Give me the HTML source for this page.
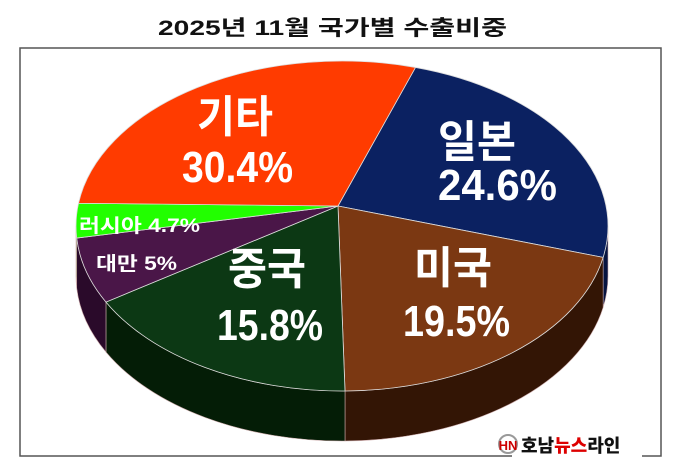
<!DOCTYPE html>
<html><head><meta charset="utf-8"><style>
html,body{margin:0;padding:0;background:#fff;width:680px;height:472px;overflow:hidden}
svg{display:block}
text{font-family:"Liberation Sans","Noto Sans CJK KR",sans-serif;font-weight:bold}
</style></head><body>
<svg id="s" width="680" height="472" viewBox="0 0 680 472" xmlns="http://www.w3.org/2000/svg">
<text x="158" y="35" font-size="21" textLength="349" lengthAdjust="spacingAndGlyphs" fill="#111">2025년 11월 국가별 수출비중</text>
<rect x="20" y="48" width="641" height="408" fill="#fff" stroke="#555" stroke-width="1.5"/>
<g id="pie"></g>
<g fill="#fff">
<text x="197" y="132" font-size="44" textLength="76" lengthAdjust="spacingAndGlyphs">기타</text>
<text x="182" y="182" font-size="44" textLength="111" lengthAdjust="spacingAndGlyphs">30.4%</text>
<text x="438" y="157" font-size="44" textLength="78" lengthAdjust="spacingAndGlyphs">일본</text>
<text x="438" y="200" font-size="44" textLength="119" lengthAdjust="spacingAndGlyphs">24.6%</text>
<text x="414" y="283" font-size="44" textLength="78" lengthAdjust="spacingAndGlyphs">미국</text>
<text x="403" y="336" font-size="44" textLength="107" lengthAdjust="spacingAndGlyphs">19.5%</text>
<text x="228" y="284" font-size="44" textLength="78" lengthAdjust="spacingAndGlyphs">중국</text>
<text x="217" y="340" font-size="44" textLength="106" lengthAdjust="spacingAndGlyphs">15.8%</text>
<text x="79" y="232" font-size="19" textLength="121" lengthAdjust="spacingAndGlyphs">러시아 4.7%</text>
<text x="96" y="270" font-size="19" textLength="81" lengthAdjust="spacingAndGlyphs">대만 5%</text>
</g>
<rect x="512" y="446" width="130" height="12" fill="#fff"/>
<circle cx="508" cy="444" r="9" fill="none" stroke="#999" stroke-width="2"/>
<text x="508" y="450" font-size="13" text-anchor="middle" fill="#c00">HN</text>
<text x="521" y="452" font-size="18" fill="#111" style="font-family:'Noto Sans CJK KR',sans-serif;font-weight:900">호남<tspan fill="#d00">뉴스</tspan>라인</text>
</svg>
<script>
(function(){
var cx=342,cy=226,rx=266,ry=165,D=50,ax=338,ay=206;
function tp(x,y){return Math.atan2((y-cy)/ry,(x-cx)/rx);}
function P(t,d){return [cx+rx*Math.cos(t),cy+ry*Math.sin(t)+(d||0)];}
var pts=[[418,62],[608,258],[345,391],[100,304],[78,238],[76,203]];
var topc=["#0b2161","#7b3812","#0c3814","#4a1648","#22ff00","#ff3b00"];
var sidec=["#061440","#331505","#041d06","#2a0a2a","#118800","#992200"];
var T=pts.map(function(p){return tp(p[0],p[1]);});
var g=document.getElementById('pie'),h='';
function n(t){while(t<0)t+=2*Math.PI;return t;}
for(var i=0;i<6;i++){
 var a=n(T[i]),b=n(T[(i+1)%6]);if(b<a)b+=2*Math.PI;
 [[0,Math.PI],[2*Math.PI,3*Math.PI]].forEach(function(r){
  var s=Math.max(a,r[0]),e=Math.min(b,r[1]);
  if(e>s+0.001){var p1=P(s),p2=P(e),q2=P(e,D),q1=P(s,D);
   h+='<path d="M'+p1+' A'+rx+' '+ry+' 0 0 1 '+p2+' L'+q2+' A'+rx+' '+ry+' 0 0 0 '+q1+' Z" fill="'+sidec[i]+'" stroke="#caa" stroke-width="0.6"/>';}
 });
}
for(var i=0;i<6;i++){
 var a=n(T[i]),b=n(T[(i+1)%6]);if(b<a)b+=2*Math.PI;
 var p1=P(a),p2=P(b),la=(b-a>Math.PI)?1:0;
 h+='<path d="M'+ax+','+ay+' L'+p1+' A'+rx+' '+ry+' 0 '+la+' 1 '+p2+' Z" fill="'+topc[i]+'" stroke="#ddd" stroke-width="0.8"/>';
}
g.innerHTML=h;
})();
</script>
</body></html>
